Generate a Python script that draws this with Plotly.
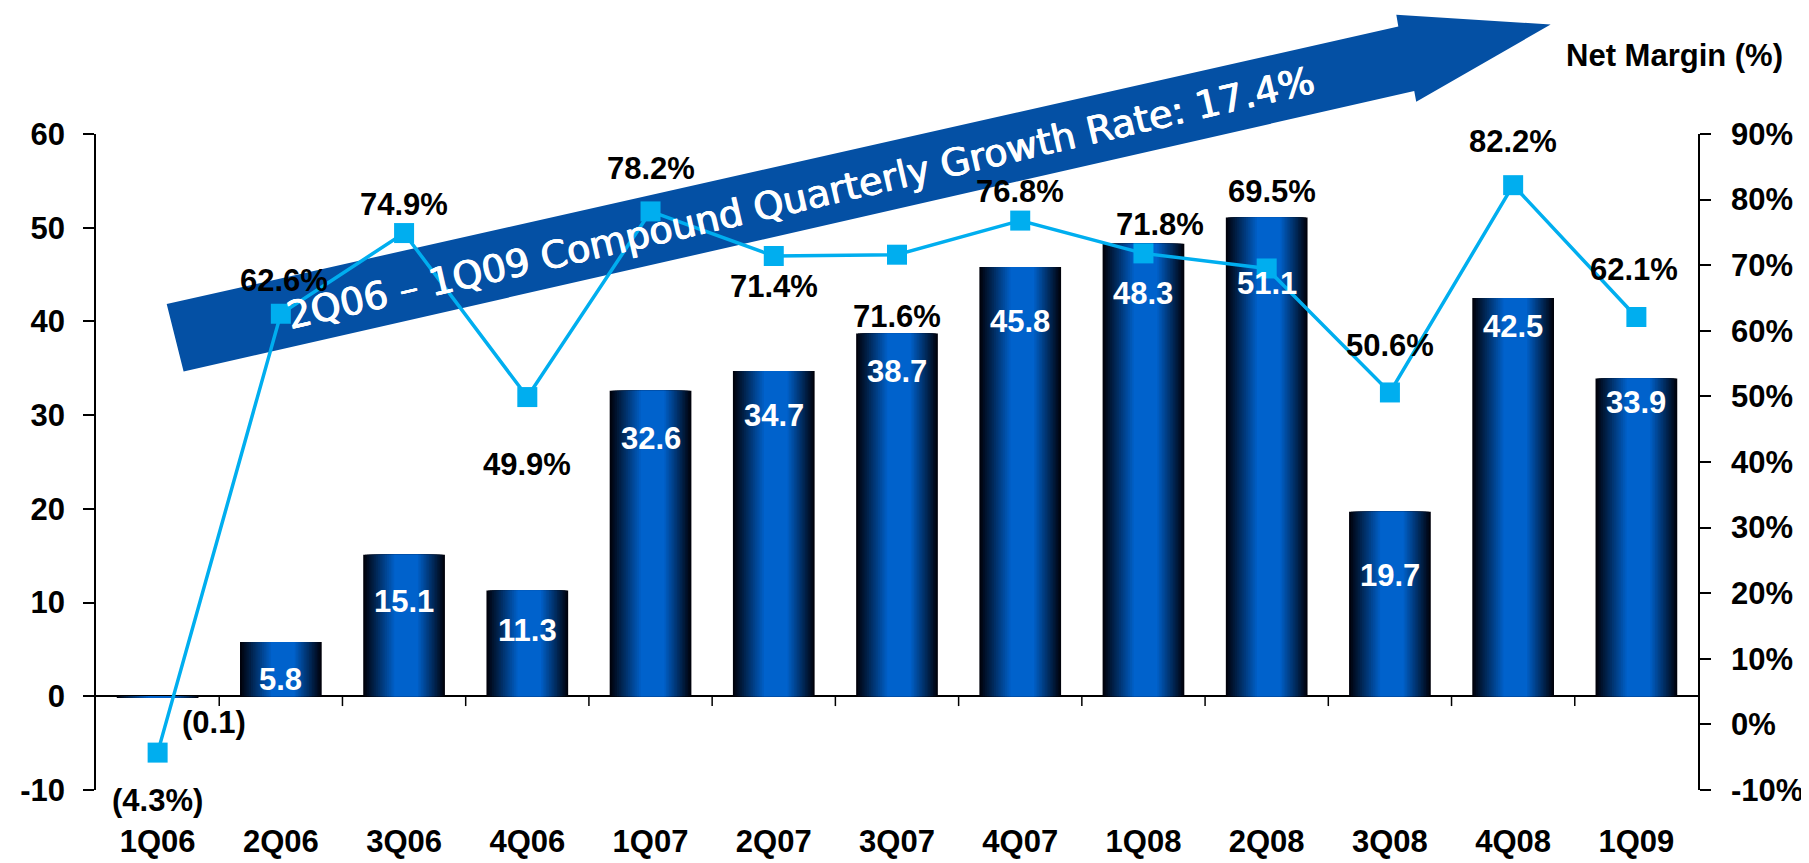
import plotly.graph_objects as go

# ---------------- data ----------------
quarters = ["1Q06", "2Q06", "3Q06", "4Q06", "1Q07", "2Q07", "3Q07",
            "4Q07", "1Q08", "2Q08", "3Q08", "4Q08", "1Q09"]
net_income = [-0.1, 5.8, 15.1, 11.3, 32.6, 34.7, 38.7, 45.8, 48.3, 51.1, 19.7, 42.5, 33.9]
net_margin = [-4.3, 62.6, 74.9, 49.9, 78.2, 71.4, 71.6, 76.8, 71.8, 69.5, 50.6, 82.2, 62.1]
left_ticks = [-10, 0, 10, 20, 30, 40, 50, 60]
left_tick_labels = ["-10", "0", "10", "20", "30", "40", "50", "60"]
right_ticks = [-10, 0, 10, 20, 30, 40, 50, 60, 70, 80, 90]
right_tick_labels = ["-10%", "0%", "10%", "20%", "30%", "40%", "50%", "60%", "70%", "80%", "90%"]
arrow_text = "2Q06 \u2013 1Q09 Compound Quarterly Growth Rate: 17.4%"
right_title = "Net Margin (%)"

# ---------------- styling / label placement (pixels) ----------------
bar_label_drop = [0, 38, 47, 40, 48, 44, 38, 54, 50, 66, 64, 28, 24]
margin_label_dy = [48, -33, -29, 67, -43, 30, 62, -29, -29, -77, -47, -44, -48]
margin_label_dx = [0, 3, 0, 0, 0, 0, 0, 0, 17, 5, 0, 0, -2]

W, H = 1809, 863
L, R, T, B = 81, 1690, 126, 797
FONT = "Liberation Sans, Arial, sans-serif"
FS = 31
LINE_BLUE = "#00AEEF"


def pxx(x):
    return (x - L) / (R - L)


def pxy(y):
    return (B - y) / (B - T)


fig = go.Figure()

# gradient bars built from nested overlaid bar layers
BW = 0.663
N = 18
dark = (0, 2, 12)
blue = (0, 98, 204)
ramp_l, ramp_r = 0.38, 0.33
for k in range(N):
    s = k / (N - 1)
    a = ramp_l * s * BW
    b = ramp_r * s * BW
    w = max(BW - a - b, 0.004)
    col = tuple(int(round(dark[i] + (blue[i] - dark[i]) * s)) for i in range(3))
    fig.add_trace(go.Bar(
        x=quarters, y=net_income, width=w, offset=-BW / 2 + a,
        marker=dict(color="rgb(%d,%d,%d)" % col, line=dict(width=0)),
        hoverinfo="skip", showlegend=False, yaxis="y",
    ))

# net margin line
fig.add_trace(go.Scatter(
    x=quarters, y=net_margin, yaxis="y2", mode="lines+markers",
    line=dict(color=LINE_BLUE, width=3.5),
    marker=dict(symbol="square", size=20, color=LINE_BLUE),
    showlegend=False, cliponaxis=False,
))

annotations = []
# bar value labels
for i, (q, v) in enumerate(zip(quarters, net_income)):
    if v < 0:
        annotations.append(dict(
            x=q, y=0, xref="x", yref="y", text="(%.1f)" % abs(v), showarrow=False,
            xshift=56, yshift=-26, font=dict(family=FONT, size=FS, color="black", weight="bold"),
        ))
    else:
        annotations.append(dict(
            x=q, y=v, xref="x", yref="y", text="%.1f" % v, showarrow=False,
            yshift=-bar_label_drop[i], yanchor="middle",
            font=dict(family=FONT, size=FS, color="white", weight="bold"),
        ))
# margin labels
for i, (q, m) in enumerate(zip(quarters, net_margin)):
    txt = "(%.1f%%)" % abs(m) if m < 0 else "%.1f%%" % m
    annotations.append(dict(
        x=q, y=m, xref="x", yref="y2", text=txt, showarrow=False,
        xshift=margin_label_dx[i], yshift=-margin_label_dy[i], yanchor="middle",
        font=dict(family=FONT, size=FS, color="black", weight="bold"),
    ))
# arrow text
annotations.append(dict(
    x=pxx(789), y=pxy(191), xref="paper", yref="paper", text=arrow_text,
    showarrow=False, textangle=-13, xanchor="center", yanchor="middle",
    font=dict(family="DejaVu Sans, Verdana, sans-serif", size=38, color="white",
              shadow="0.6px 0px 0px white, -0.6px 0px 0px white"),
))
# right axis title
annotations.append(dict(
    x=pxx(1666), y=pxy(46), xref="paper", yref="paper", text=right_title,
    showarrow=False, xanchor="center", yanchor="middle",
    font=dict(family=FONT, size=FS, color="black", weight="bold"),
))

shapes = []
# big arrow
pts = [(152, 300), (1389, 16), (1387, 4), (1542, 14), (1407, 93), (1405, 82), (169, 369)]
path = "M " + " L ".join("%.5f,%.5f" % (pxx(x), pxy(y)) for x, y in pts) + " Z"
shapes.append(dict(type="path", path=path, xref="paper", yref="paper",
                   fillcolor="#0450A4", line=dict(width=0), layer="below"))
# category boundary ticks on the zero line
tick_len_units = 10 / (B - T) * (left_ticks[-1] - left_ticks[0])
for i in range(len(quarters) - 1):
    shapes.append(dict(type="line", xref="x", yref="y", x0=i + 0.5, x1=i + 0.5,
                       y0=0, y1=-tick_len_units, line=dict(color="black", width=1.5)))

axis_font = dict(family=FONT, size=FS, color="black", weight="bold")
fig.update_layout(
    width=W, height=H, autosize=False,
    margin=dict(l=L, r=W - R, t=T, b=H - B, pad=0),
    paper_bgcolor="white", plot_bgcolor="rgba(0,0,0,0)",
    barmode="overlay", showlegend=False,
    xaxis=dict(range=[-0.5, len(quarters) - 0.5], showgrid=False, showline=False,
               zeroline=False, ticks="", tickfont=axis_font, ticklabelstandoff=30,
               fixedrange=True),
    yaxis=dict(range=[left_ticks[0], left_ticks[-1]], tickmode="array",
               tickvals=left_ticks, ticktext=left_tick_labels,
               showgrid=False, showline=True, linecolor="black", linewidth=1.5,
               ticks="outside", ticklen=11, tickwidth=1.5, tickcolor="black",
               zeroline=True, zerolinecolor="black", zerolinewidth=1.5,
               tickfont=axis_font, ticklabelstandoff=12),
    yaxis2=dict(range=[right_ticks[0], right_ticks[-1]], tickmode="array",
                tickvals=right_ticks, ticktext=right_tick_labels,
                overlaying="y", side="right", anchor="x",
                showgrid=False, showline=True, linecolor="black", linewidth=1.5,
                ticks="outside", ticklen=11, tickwidth=1.5, tickcolor="black",
                zeroline=False, tickfont=axis_font, ticklabelstandoff=14),
    annotations=annotations,
    shapes=shapes,
)

fig.write_html("out.html")
